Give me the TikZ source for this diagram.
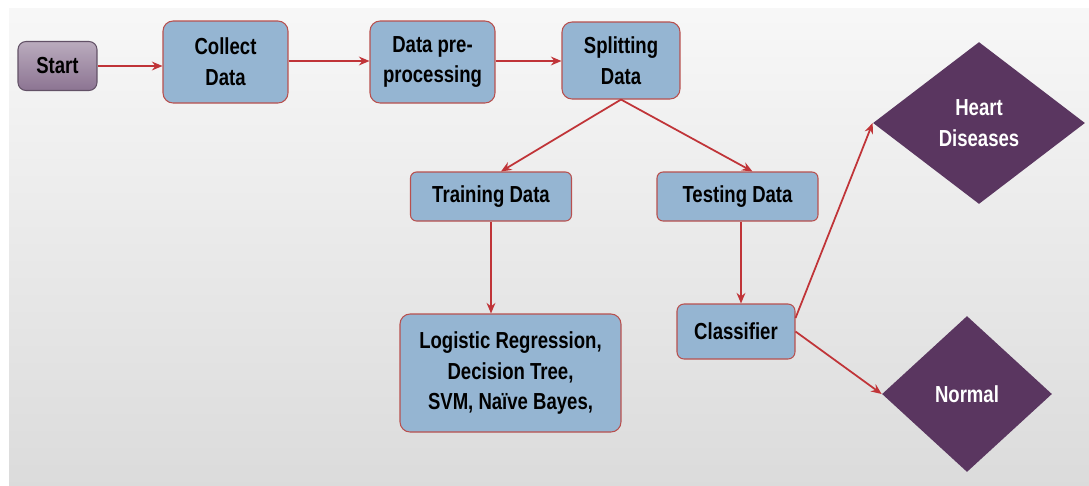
\documentclass[tikz,border=0pt]{standalone}
\usepackage{fontspec}
\setmainfont{Liberation Sans}[FakeStretch=0.8]
\usepackage{tikz}
\usetikzlibrary{shapes.geometric, arrows.meta, positioning, calc}
\definecolor{boxcolor}{RGB}{149,181,210}
\definecolor{edgecolor}{RGB}{184,80,78}
\definecolor{flowcolor}{RGB}{192,52,56}
\definecolor{startcolor}{RGB}{140,116,146}
\definecolor{endcolor}{RGB}{90,54,96}

\tikzset{
  boxtext/.style={font=\fontsize{13.2}{17.6}\selectfont\bfseries, align=center},
  stepbox/.style={boxtext, draw=edgecolor, line width=0.6pt, fill=boxcolor, rounded corners=0.2cm, inner sep=2pt},
  startbox/.style={boxtext, draw=startcolor!70!black, line width=0.6pt, top color=startcolor!60!white, bottom color=startcolor, rounded corners=0.16cm},
  outcome/.style={boxtext, diamond, fill=endcolor, text=white, inner sep=0pt},
  flow/.style={draw=flowcolor, line width=1pt, -{Stealth[length=6pt, width=5pt]}}
}

\begin{document}
\begin{tikzpicture}[x=0.02cm, y=-0.02cm]
    % Canvas
    \useasboundingbox (0,0) rectangle (1089,485);
    \fill[white] (0,0) rectangle (1089,485);
    \shade[top color=black!3, bottom color=black!14] (9,8) rectangle (1089,485);

    % Top row
    \node[startbox, minimum width=1.58cm, minimum height=0.98cm] (start) at (57.5,66) {Start};
    \node[stepbox, minimum width=2.5cm, minimum height=1.64cm] (collect) at (225.5,62) {Collect\\Data};
    \node[stepbox, minimum width=2.5cm, minimum height=1.64cm] (prep) at (432.5,62) {Data pre-\\processing};
    \node[stepbox, minimum width=2.36cm, minimum height=1.54cm] (split) at (621,60.5) {Splitting\\Data};

    % Split
    \node[stepbox, rounded corners=0.12cm, minimum width=3.22cm, minimum height=0.98cm] (train) at (491,196.5) {Training Data};
    \node[stepbox, rounded corners=0.12cm, minimum width=3.22cm, minimum height=0.98cm] (test) at (737.5,196.5) {Testing Data};

    % Models and classifier
    \node[stepbox, minimum width=4.42cm, minimum height=2.36cm] (models) at (510.5,373) {Logistic Regression,\\Decision Tree,\\SVM, Naïve Bayes,};
    \node[stepbox, rounded corners=0.14cm, minimum width=2.36cm, minimum height=1.1cm] (clf) at (736,331.5) {Classifier};

    % Outcomes
    \node[outcome, minimum width=4.24cm, minimum height=3.24cm] (heart) at (979,123) {Heart\\Diseases};
    \node[outcome, minimum width=3.4cm, minimum height=3.12cm] (normal) at (967,394) {Normal};

    % Connectors
    \draw[flow] (start.east) -- (start.east -| collect.west);
    \draw[flow] (collect.east |- 0,61) -- (prep.west |- 0,61);
    \draw[flow] (prep.east |- 0,61) -- (split.west |- 0,61);
    \draw[flow] (split.south) -- ([xshift=0.2cm]train.north);
    \draw[flow] (split.south) -- ([xshift=0.3cm]test.north);
    \draw[flow] (train.south) -- (train.south |- models.north);
    \draw[flow] ([xshift=0.07cm]test.south) -- ([xshift=0.07cm]test.south |- clf.north);
    \draw[flow] ([yshift=0.27cm]clf.east) -- (heart.west);
    \draw[flow] (clf.east) -- (normal.west);
\end{tikzpicture}
\end{document}
